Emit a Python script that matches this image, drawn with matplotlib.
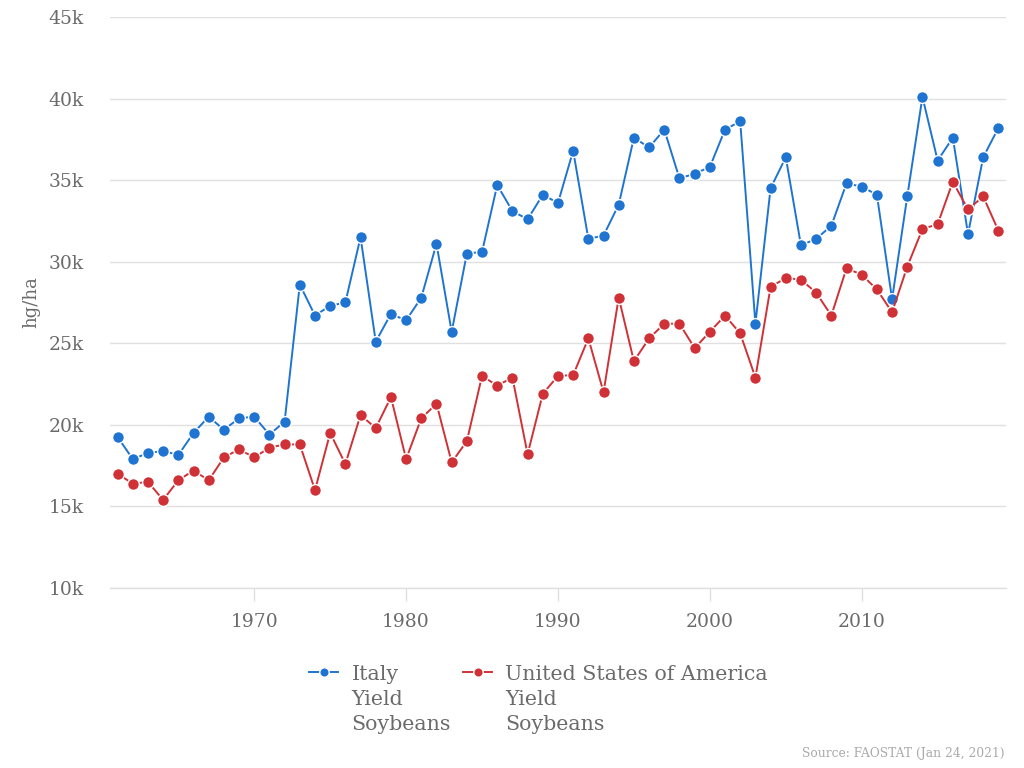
import matplotlib
matplotlib.use('Agg')
import matplotlib.pyplot as plt
import matplotlib.ticker as mtick
from matplotlib.offsetbox import HPacker

plt.rcParams.update({'font.family': 'DejaVu Serif', 'font.size': 13})

years = list(range(1961, 2020))

italy_y = [19.26, 17.9, 18.27, 18.4, 18.15, 19.5, 20.5, 19.7, 20.4, 20.5,
           19.4, 20.2, 28.6, 26.7, 27.3, 27.5, 31.5, 25.1, 26.8, 26.4,
           27.8, 31.1, 25.7, 30.5, 30.6, 34.7, 33.1, 32.6, 34.1, 33.6,
           36.8, 31.4, 31.6, 33.5, 37.6, 37.0, 38.1, 35.1, 35.4, 35.8,
           38.1, 38.6, 26.2, 34.5, 36.4, 31.0, 31.4, 32.2, 34.8, 34.6,
           34.1, 27.7, 34.0, 40.1, 36.2, 37.6, 31.7, 36.4, 38.2]
usa_y = [17.0, 16.4, 16.5, 15.4, 16.6, 17.2, 16.6, 18.0, 18.5, 18.0,
         18.6, 18.8, 18.8, 16.0, 19.5, 17.6, 20.6, 19.8, 21.7, 17.9,
         20.4, 21.3, 17.7, 19.0, 23.0, 22.4, 22.9, 18.2, 21.9, 23.0,
         23.05, 25.3, 22.0, 27.8, 23.9, 25.3, 26.2, 26.2, 24.7, 25.7,
         26.7, 25.6, 22.9, 28.45, 29.0, 28.9, 28.1, 26.7, 29.6, 29.2,
         28.3, 26.9, 29.7, 32.0, 32.3, 34.9, 33.2, 34.0, 31.9]
italy_y = [v * 1000 for v in italy_y]
usa_y = [v * 1000 for v in usa_y]

labels = ['Italy\nYield\nSoybeans', 'United States of America\nYield\nSoybeans']
blue = '#1f74d1'
red = '#cf3136'
txt_col = '#6b6b6b'
grid_col = '#e0e0e0'

fig = plt.figure(figsize=(10.24, 7.68), dpi=100)
ax = fig.add_axes([0.1074, 0.2344, 0.875, 0.7435])

for yv, col, lab in [(italy_y, blue, labels[0]), (usa_y, red, labels[1])]:
    ax.plot(years, yv, color=col, linewidth=1.4, marker='o', markersize=8.5,
            markeredgecolor='white', markeredgewidth=1.0, label=lab, zorder=3)

ax.set_xlim(1960.5, 2019.5)
ax.set_ylim(10000, 45000)
ax.yaxis.set_major_locator(mtick.MultipleLocator(5000))
ax.yaxis.set_major_formatter(mtick.FuncFormatter(lambda v, p: '%dk' % (v / 1000)))
ax.set_xticks([1970, 1980, 1990, 2000, 2010])

ax.grid(axis='y', color=grid_col, linewidth=1.0, zorder=0)
for s in ['top', 'right', 'left']:
    ax.spines[s].set_visible(False)
ax.spines['bottom'].set_color(grid_col)
ax.spines['bottom'].set_linewidth(1.0)
ax.tick_params(axis='y', length=0, pad=19, labelsize=13.5, labelcolor=txt_col)
ax.tick_params(axis='x', length=9, width=1, color=grid_col, pad=9,
               labelsize=13.5, labelcolor=txt_col)
ax.set_ylabel('hg/ha', color=txt_col, fontsize=13, labelpad=6)

leg = fig.legend(loc='upper center', bbox_to_anchor=(0.526, 0.158), ncol=2,
                 frameon=False, fontsize=14.8, labelcolor=txt_col,
                 handlelength=1.4, handletextpad=0.65, columnspacing=0.6,
                 markerscale=0.8)
for t in leg.get_texts():
    t.set_linespacing(1.38)
for hp in leg.findobj(HPacker):
    hp.align = 'top'

fig.text(0.981, 0.01, 'Source: FAOSTAT (Jan 24, 2021)', ha='right', va='bottom',
         fontsize=8.8, color='#aaaaaa')

fig.savefig('out.png', dpi=100)
